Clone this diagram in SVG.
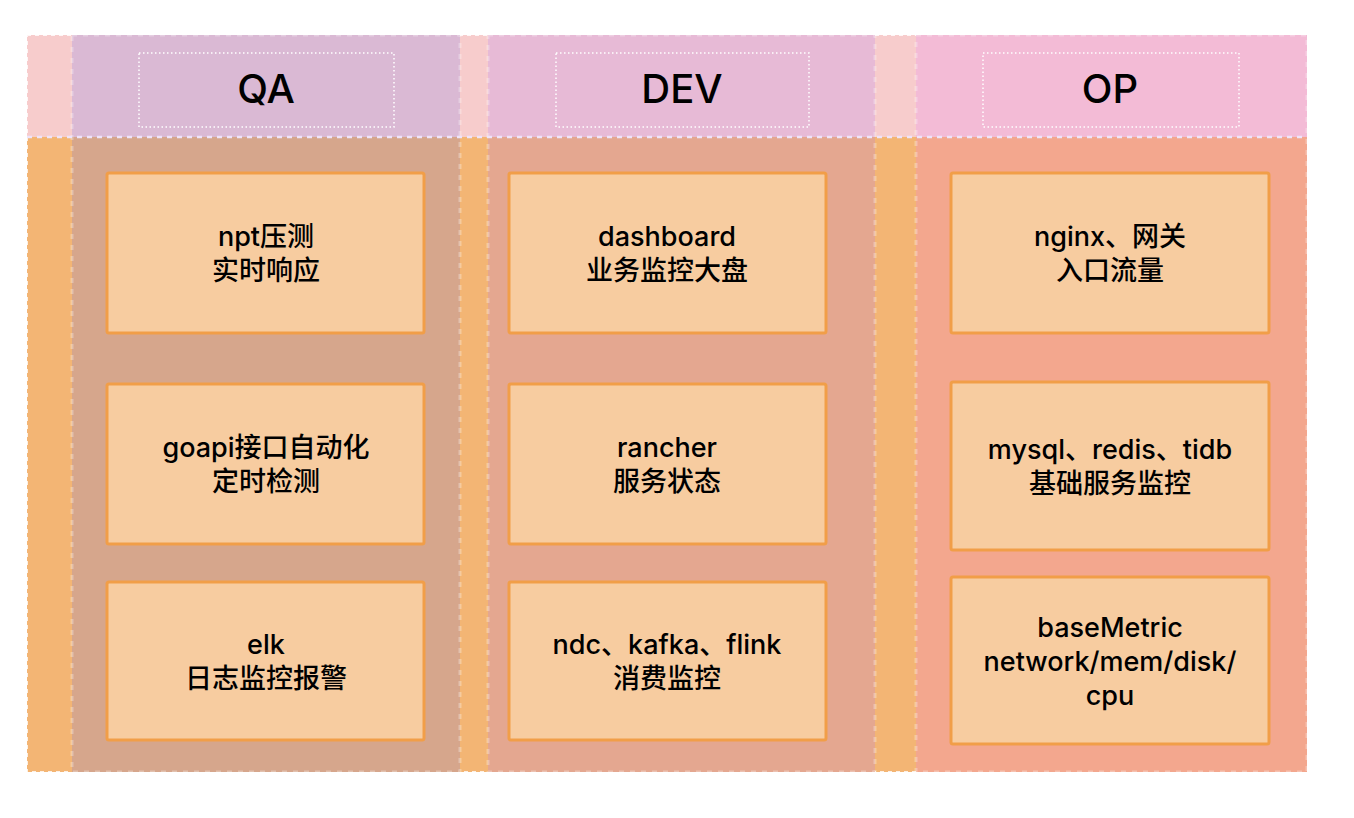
<svg xmlns="http://www.w3.org/2000/svg" width="1354" height="818" viewBox="0 0 1354 818">
<style>
.t{font-family:Inter,"Noto Sans CJK SC",sans-serif;font-size:27px;font-weight:500;fill:#000;text-anchor:middle}
.h{font-family:Inter,"Noto Sans CJK SC",sans-serif;font-size:40px;font-weight:500;fill:#000;text-anchor:middle}
.node{fill:#F7CCA0;stroke:#F19E48;stroke-width:3}
.tb{fill:none;stroke:#fff;stroke-width:1.5;stroke-dasharray:1.5 2.5}
.ld{fill:none;stroke:#fff;stroke-opacity:0.3;stroke-width:3;stroke-dasharray:5 6}
</style>
<rect width="1354" height="818" fill="#fff"/>
<g id="pool">
<rect x="27" y="35" width="1280" height="102" fill="#F7CCCC"/>
<rect x="27" y="137" width="1280" height="635" fill="#F3B574"/>
<rect x="27" y="35" width="1280" height="737" fill="none" stroke="#fff" stroke-opacity="0.8" stroke-width="2" stroke-dasharray="4 4"/>
</g>
<g id="lane-qa">
<rect x="72" y="35" width="388" height="102" fill="#DAB9D4"/>
<rect x="72" y="137" width="388" height="635" fill="#D6A68C"/>
<rect x="72" y="35" width="388" height="737" class="ld"/>
<rect x="139" y="53" width="255" height="74" class="tb"/>
<text class="h" x="266" y="103">QA</text>
</g>
<g id="lane-dev">
<rect x="488" y="35" width="387" height="102" fill="#E7BAD6"/>
<rect x="488" y="137" width="387" height="635" fill="#E4A790"/>
<rect x="488" y="35" width="387" height="737" class="ld"/>
<rect x="556" y="53" width="253" height="74" class="tb"/>
<text class="h" x="682" y="103">DEV</text>
</g>
<g id="lane-op">
<rect x="916" y="35" width="391" height="102" fill="#F3BBD6"/>
<rect x="916" y="137" width="391" height="635" fill="#F3A78E"/>
<rect x="916" y="35" width="391" height="737" class="ld"/>
<rect x="983" y="53" width="256" height="74" class="tb"/>
<text class="h" x="1110" y="103">OP</text>
</g>
<line x1="27" y1="137" x2="1307" y2="137" stroke="#EDE4FA" stroke-width="2.5" stroke-dasharray="5 5"/>
<g id="connectors"></g>
<g id="qa1"><rect class="node" x="107" y="173" width="317" height="160" rx="2"/><text class="t" x="266" y="246">npt压测</text><text class="t" x="266" y="280">实时响应</text></g>
<g id="qa2"><rect class="node" x="107" y="384" width="317" height="160" rx="2"/><text class="t" x="266" y="457">goapi接口自动化</text><text class="t" x="266" y="491">定时检测</text></g>
<g id="qa3"><rect class="node" x="107" y="582" width="317" height="158" rx="2"/><text class="t" x="266" y="654">elk</text><text class="t" x="266" y="688">日志监控报警</text></g>
<g id="dev1"><rect class="node" x="509" y="173" width="317" height="160" rx="2"/><text class="t" x="667" y="246">dashboard</text><text class="t" x="667" y="280">业务监控大盘</text></g>
<g id="dev2"><rect class="node" x="509" y="384" width="317" height="160" rx="2"/><text class="t" x="667" y="457">rancher</text><text class="t" x="667" y="491">服务状态</text></g>
<g id="dev3"><rect class="node" x="509" y="582" width="317" height="158" rx="2"/><text class="t" x="667" y="654">ndc、kafka、flink</text><text class="t" x="667" y="688">消费监控</text></g>
<g id="op1"><rect class="node" x="951" y="173" width="318" height="160" rx="2"/><text class="t" x="1110" y="246">nginx、网关</text><text class="t" x="1110" y="280">入口流量</text></g>
<g id="op2"><rect class="node" x="951" y="382" width="318" height="168" rx="2"/><text class="t" x="1110" y="459">mysql、redis、tidb</text><text class="t" x="1110" y="493">基础服务监控</text></g>
<g id="op3"><rect class="node" x="951" y="577" width="318" height="167" rx="2"/><text class="t" x="1110" y="637">baseMetric</text><text class="t" x="1110" y="671">network/mem/disk/</text><text class="t" x="1110" y="705">cpu</text></g>
</svg>
